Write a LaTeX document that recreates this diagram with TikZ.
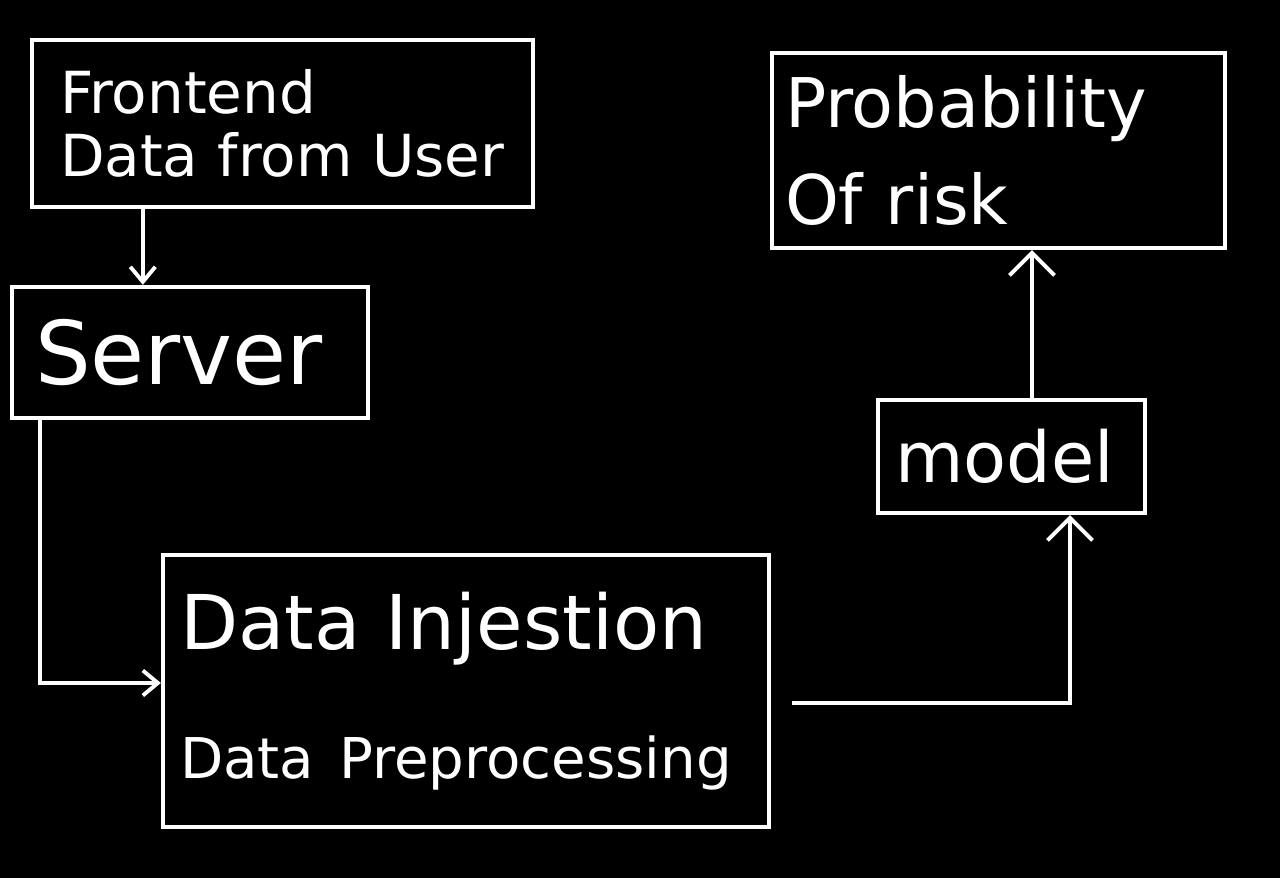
\documentclass[tikz,border=0pt]{standalone}
\usepackage{fontspec}
\setmainfont{DejaVu Sans}
\usetikzlibrary{positioning}
\usetikzlibrary{arrows.meta}
\tikzset{main box/.style={draw=white,line width=2.5pt,text=white,align=left,inner sep=0pt} }
\tikzset{thin arrow/.style={draw=white,line width=2.2pt,-{Straight Barb[length=3mm,width=5mm,line width=2.2pt]}} }
\tikzset{wide arrow/.style={draw=white,line width=2.2pt,-{Straight Barb[length=4.5mm,width=9mm,line width=2.2pt]}} }

\begin{document}
\begin{tikzpicture}[x=0.02cm,y=-0.02cm]
  \fill[black] (0,0) rectangle (1280,878);
  \useasboundingbox (0,0) rectangle (1280,878);

  \node[main box,minimum width=10.02cm,minimum height=3.34cm,text width=8.9cm,
        font=\fontsize{33}{36}\selectfont] (front) at (282.5,123.5) {Frontend\\Data from User};
  \node[main box,minimum width=7.12cm,minimum height=2.62cm,text width=6.2cm,
        font=\fontsize{50}{56}\selectfont] (server) at (190,352.5) {Server};
  \node[main box,minimum width=12.12cm,minimum height=5.44cm,text width=11.44cm,
        font=\fontsize{43}{48}\selectfont] (data) at (466,691)
        {Data Injestion\\[0.9cm]{\fontsize{32}{36}\selectfont Data Preprocessing}};
  \node[main box,minimum width=5.34cm,minimum height=2.26cm,text width=4.66cm,
        font=\fontsize{40}{44}\selectfont] (model) at (1011.5,456.5) {model};
  \node[main box,minimum width=9.06cm,minimum height=3.9cm,text width=8.54cm,
        font=\fontsize{39}{44}\selectfont] (prob) at (998.5,150.5) {Probability\\[0.4cm]Of risk};

  \coordinate (f1) at ([xshift=2.26cm]front.south west);
  \coordinate (s1) at ([xshift=0.6cm]server.south west);
  \coordinate (m1) at ([xshift=1.17cm]model.south);
  \coordinate (p1) at ([xshift=0.41cm]model.north);

  \draw[thin arrow] (f1) -- (f1 |- server.north);
  \draw[thin arrow] (s1) |- ([yshift=0.16cm]data.west);
  \draw[wide arrow] ([xshift=0.42cm,yshift=-0.24cm]data.east) -| (m1);
  \draw[wide arrow] (p1) -- (p1 |- prob.south);
\end{tikzpicture}
\end{document}
